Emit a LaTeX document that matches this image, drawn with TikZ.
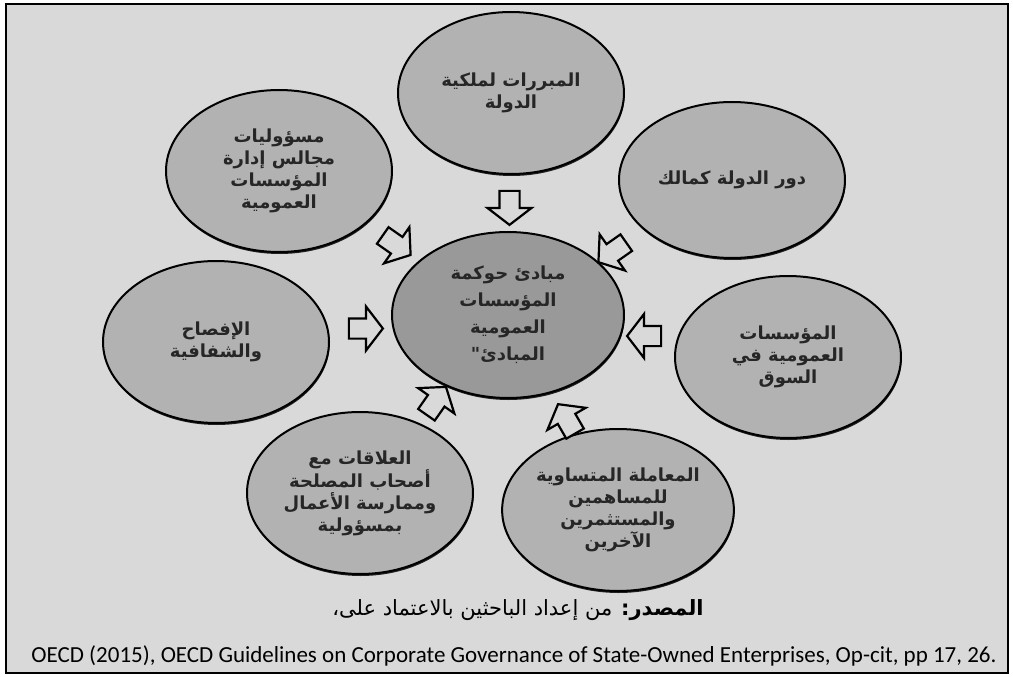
\documentclass[tikz,border=0pt]{standalone}
\usepackage{fontspec}
\setmainfont{Carlito}
\newfontfamily\arabicfont[Script=Arabic]{DejaVu Sans}
\TeXXeTstate=1
\usetikzlibrary{shapes.geometric,shapes.arrows,shadows,calc}
\definecolor{paper}{gray}{0.85}
\definecolor{bubblegray}{gray}{0.70}
\definecolor{coregray}{gray}{0.60}
\newcommand{\arl}[1]{\beginR #1\endR}
\tikzset{
  bubble/.style={ellipse, draw, line width=2pt, fill=bubblegray, text=black!85,
    drop shadow={shadow xshift=0.6pt, shadow yshift=-2pt, opacity=0.85, fill=black},
    minimum width=226pt, minimum height=162pt, inner sep=0pt, align=center,
    font=\arabicfont\bfseries\fontsize{18}{22}\selectfont},
  blockarrow/.style={single arrow, draw, line width=2.2pt, fill=paper,
    inner xsep=0pt, inner ysep=9pt, minimum height=34pt,
    single arrow head extend=12pt, single arrow tip angle=105}
}

\begin{document}
\begin{tikzpicture}[x=1pt,y=-1pt]
\useasboundingbox (0,0) rectangle (1013,677);
\draw[line width=2.5pt, fill=paper] (6,4) rectangle (1008,673);
% the eight principles
\node[bubble] (owner) at (511,93) {\arl{المبررات لملكية}\\\arl{الدولة}};
\node[bubble] (board) at (279,171) {\arl{مسؤوليات}\\\arl{مجالس إدارة}\\\arl{المؤسسات}\\\arl{العمومية}};
\node[bubble, minimum height=156pt] (role) at (732,180) {\arl{دور الدولة كمالك}};
\node[bubble, fill=coregray, minimum width=232pt, minimum height=166pt,
  font=\arabicfont\bfseries\fontsize{18}{27}\selectfont] (principles) at (508,315)
  {\arl{مبادئ حوكمة}\\\arl{المؤسسات}\\\arl{العمومية}\\\arl{المبادئ"}};
\node[bubble] (disclosure) at (216,342) {\arl{الإفصاح}\\\arl{والشفافية}};
\node[bubble] (market) at (788,357) {\arl{المؤسسات}\\\arl{العمومية في}\\\arl{السوق}};
\node[bubble] (stakeholders) at (360,493) {\arl{العلاقات مع}\\\arl{أصحاب المصلحة}\\\arl{وممارسة الأعمال}\\\arl{بمسؤولية}};
\node[bubble] (shareholders) at (618,510) {\arl{المعاملة المتساوية}\\\arl{للمساهمين}\\\arl{والمستثمرين}\\\arl{الآخرين}};
% arrows into the centre
\node[blockarrow, rotate=-90] (ownerarrow) at ($(owner)!0.5!(principles)$) {};
\node[blockarrow, rotate=-35] (boardarrow) at ($(board)!0.5!(principles)$) {};
\node[blockarrow, rotate=215] (rolearrow) at ($(role)!0.52!(principles)$) {};
\node[blockarrow, rotate=0] (disclosurearrow) at ($(disclosure)!0.5!(principles)$) {};
\node[blockarrow, rotate=180] (marketarrow) at ($(market)!0.5!(principles)$) {};
\node[blockarrow, rotate=55] (stakeholdersarrow) at ($(stakeholders)!0.5!(principles)$) {};
\node[blockarrow, rotate=120] (shareholdersarrow) at ($(shareholders)!0.45!(principles)$) {};
% source
\node[font=\arabicfont\fontsize{21}{24}\selectfont] (source) at (518,610) {\arl{\textbf{المصدر:} من إعداد الباحثين بالاعتماد على،}};
\node[font=\fontsize{23}{26}\selectfont] (oecd) at (514,656) {OECD (2015), OECD Guidelines on Corporate Governance of State-Owned Enterprises, Op-cit, pp 17, 26.};
\end{tikzpicture}
\end{document}
